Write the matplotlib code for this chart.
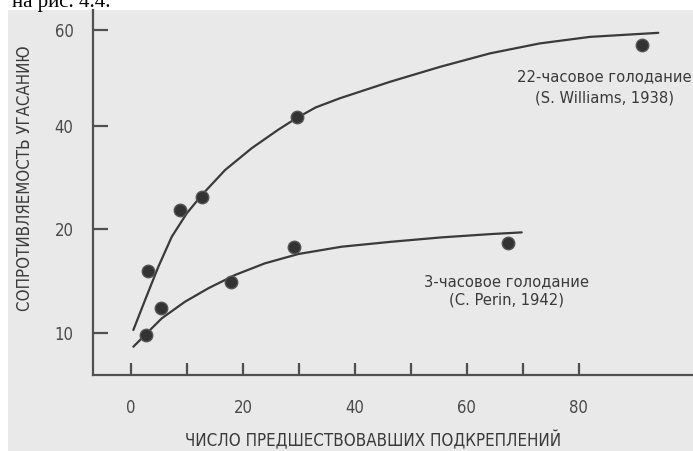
import numpy as np
import matplotlib
matplotlib.use('Agg')
import matplotlib.pyplot as plt
from matplotlib.patches import Rectangle

plt.rcParams['font.family'] = ['DejaVu Sans']
plt.rcParams['font.stretch'] = 'condensed'

# data
# 22-hour deprivation (S. Williams, 1938)
pts_upper_x = [2.98, 8.75, 12.6, 29.6, 91.2]
pts_upper_y = [15.96, 23.7, 26.3, 42.0, 56.9]
# 3-hour deprivation (C. Perin, 1942)
pts_lower_x = [2.6, 5.3, 17.86, 29.2, 67.4]
pts_lower_y = [9.81, 12.38, 14.88, 18.3, 18.68]

# hand drawn curves
curve_upper_x = [0.41, 2.5, 4.88, 7.27, 9.95, 12.63, 16.79, 21.55, 26.3, 29.6,
                 33.0, 37.3, 46.25, 55.2, 64.1, 73.0, 82.0, 94.2]
curve_upper_y = [10.29, 13.17, 16.38, 19.26, 23.05, 26.6, 31.46, 35.7, 39.3, 41.7,
                 43.9, 45.8, 49.23, 52.35, 55.15, 57.23, 58.6, 59.44]
curve_lower_x = [0.41, 2.5, 5.48, 9.64, 13.8, 18.57, 23.9, 29.9, 37.6, 46.55,
                 55.5, 64.4, 69.8]
curve_lower_y = [8.68, 9.81, 11.41, 13.01, 14.3, 15.58, 16.7, 17.6, 18.3, 18.78,
                 19.2, 19.52, 19.68]

xticks_major = [0, 20, 40, 60, 80]
xticks_minor = [10, 30, 50, 70]
yticks = [10, 20, 40, 60]

# the printed y axis is not linear: ticks 10, 20, 40, 60 sit almost evenly
yv = np.array([0.0, 10, 20, 40, 60, 100])
yp = np.array([-104.0, 0, 104, 207, 303, 495])

def fwd(v):
    return np.interp(v, yv, yp)

def inv(p):
    return np.interp(p, yp, yv)


W, H = 693, 451
fig = plt.figure(figsize=(W / 100, H / 100), dpi=100)
fig.patch.set_facecolor('white')
fig.patches.append(Rectangle((8 / W, 0), 1, (H - 10) / H, transform=fig.transFigure,
                             facecolor='#e9e9e9', edgecolor='none', zorder=-10))
fig.text(12 / W, 1 - 7 / H, 'на рис. 4.4.', family='Liberation Serif', fontsize=15,
         color='black', ha='left', va='baseline', fontstretch='normal')

ax = fig.add_axes([93 / W, (H - 375) / H, (W - 93) / W, (375 - 10) / H])
ax.set_facecolor('none')
ax.set_yscale('function', functions=(fwd, inv))
ax.set_xlim(-6.8, 100.4)
ax.set_ylim(5.96, 64.2)

lc = '#3a3a3a'
ax.plot(curve_upper_x, curve_upper_y, color=lc, lw=1.6, solid_capstyle='round')
ax.plot(curve_lower_x, curve_lower_y, color=lc, lw=1.6, solid_capstyle='round')
ax.plot(pts_upper_x, pts_upper_y, 'o', color='#333333', ms=9, mec='#555555')
ax.plot(pts_lower_x, pts_lower_y, 'o', color='#333333', ms=9, mec='#555555')

for s in ['top', 'right']:
    ax.spines[s].set_visible(False)
for s in ['left', 'bottom']:
    ax.spines[s].set_color('#505050')
    ax.spines[s].set_linewidth(1.6)

ax.set_xticks(xticks_major)
ax.set_xticks(xticks_minor, minor=True)
ax.set_yticks(yticks)
ax.set_yticks([], minor=True)
ax.set_yticklabels([str(t) for t in yticks])
ax.tick_params(axis='both', which='both', direction='in', color='#505050',
               width=1.6, labelcolor='#4a4a4a', labelsize=12)
ax.tick_params(axis='x', which='both', length=9, pad=17)
ax.tick_params(axis='y', length=11, pad=14)

ax.set_xlabel('ЧИСЛО ПРЕДШЕСТВОВАВШИХ ПОДКРЕПЛЕНИЙ', fontsize=12.2, color='#3a3a3a')
ax.set_ylabel('СОПРОТИВЛЯЕМОСТЬ УГАСАНИЮ', fontsize=12.1, color='#3a3a3a')
ax.xaxis.set_label_coords((373 - 93) / (W - 93), -(431 - 375) / (375 - 10))
ax.yaxis.set_label_coords(-(93 - 34) / (W - 93), (375 - 178) / (375 - 10))

tc = '#3a3a3a'
ax.text(84.5, 50.2, '22-часовое голодание', ha='center', va='center', fontsize=11.8, color=tc)
ax.text(84.5, 45.8, '(S. Williams, 1938)', ha='center', va='center', fontsize=11.8, color=tc)
ax.text(67.0, 14.9, '3-часовое голодание', ha='center', va='center', fontsize=11.8, color=tc)
ax.text(67.0, 13.17, '(C. Perin, 1942)', ha='center', va='center', fontsize=11.8, color=tc)

fig.savefig('out.png', dpi=100, facecolor=fig.get_facecolor())
